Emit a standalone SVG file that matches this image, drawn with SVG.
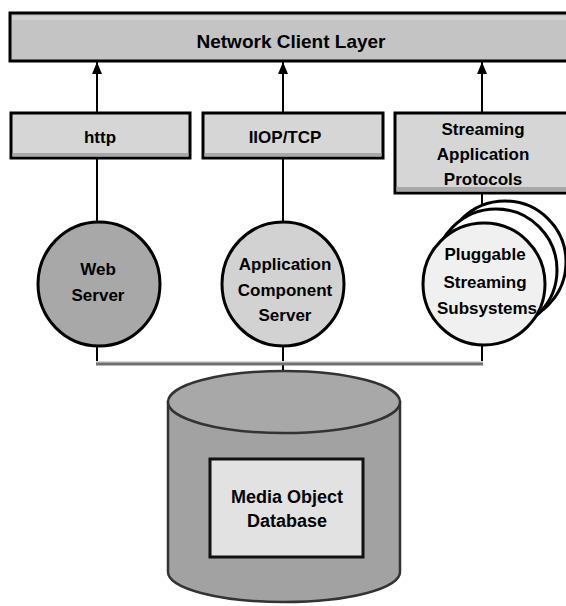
<svg xmlns="http://www.w3.org/2000/svg" width="566" height="606" viewBox="0 0 566 606">
<defs>
<style>
.t{font-family:"Liberation Sans",Arial,sans-serif;font-weight:bold;font-size:17px;fill:#000;text-anchor:middle}
.box{fill:#d6d6d6;stroke:#000;stroke-width:3}
.ln{stroke:#000;stroke-width:2;fill:none}
.circ{stroke:#000;stroke-width:3}
</style>
<marker id="ah" markerWidth="12" markerHeight="10" refX="12" refY="5" orient="auto" markerUnits="userSpaceOnUse" viewBox="0 0 12 10">
<path d="M0,0 L12,5 L0,10 Z" fill="#000"/>
</marker>
</defs>
<rect width="566" height="606" fill="#fff"/>

<g id="connectors">
<line class="ln" x1="97" y1="113" x2="97" y2="62" marker-end="url(#ah)"/>
<line class="ln" x1="283" y1="113" x2="283" y2="62" marker-end="url(#ah)"/>
<line class="ln" x1="482" y1="113" x2="482" y2="62" marker-end="url(#ah)"/>
<line class="ln" x1="97" y1="158" x2="97" y2="222"/>
<line class="ln" x1="283" y1="158" x2="283" y2="222"/>
<line class="ln" x1="482" y1="193" x2="482" y2="222"/>
<line class="ln" x1="97" y1="346" x2="97" y2="363"/>
<line class="ln" x1="283" y1="346" x2="283" y2="372"/>
<line class="ln" x1="482" y1="346" x2="482" y2="363"/>
<line x1="96" y1="362" x2="483" y2="362" stroke="#d8d8d8" stroke-width="2"/>
<line x1="96" y1="364" x2="483" y2="364" stroke="#707070" stroke-width="3"/>
</g>

<g id="client-layer">
<rect x="10" y="13" width="570" height="48" fill="#c4c4c4" stroke="#000" stroke-width="3"/>
<rect x="12" y="16" width="566" height="4" fill="#d2d2d2"/>
<text class="t" x="291" y="48" style="font-size:19px">Network Client Layer</text>
</g>

<g id="http">
<rect class="box" x="11" y="113" width="179" height="45"/>
<rect x="12.5" y="153" width="176" height="3.5" fill="#a8a8a8"/>
<text class="t" x="100" y="143">http</text>
</g>

<g id="iiop">
<rect class="box" x="203" y="113" width="180" height="45"/>
<rect x="204.5" y="153" width="177" height="3.5" fill="#a8a8a8"/>
<text class="t" x="285" y="143">IIOP/TCP</text>
</g>

<g id="streaming-protocols">
<rect class="box" x="395" y="113" width="185" height="80" fill="#dcdcdc"/>
<rect x="396.5" y="187" width="182" height="4.5" fill="#a8a8a8"/>
<text class="t" x="483" y="135">Streaming</text>
<text class="t" x="483" y="160">Application</text>
<text class="t" x="483" y="185">Protocols</text>
</g>

<g id="web-server">
<ellipse class="circ" cx="99" cy="284" rx="61" ry="62" fill="#a8a8a8"/>
<text class="t" x="98" y="275">Web</text>
<text class="t" x="98" y="301">Server</text>
</g>

<g id="app-server">
<ellipse class="circ" cx="283" cy="284" rx="61" ry="62" fill="#d2d2d2"/>
<text class="t" x="285" y="270">Application</text>
<text class="t" x="285" y="296">Component</text>
<text class="t" x="285" y="321">Server</text>
</g>

<g id="streaming-subsystems">
<circle class="circ" cx="505" cy="262" r="61" fill="#fff"/>
<circle class="circ" cx="496" cy="270" r="61" fill="#fff"/>
<circle class="circ" cx="484" cy="284" r="61" fill="#f0f0f0"/>
<text class="t" x="485" y="260">Pluggable</text>
<text class="t" x="485" y="288">Streaming</text>
<text class="t" x="487" y="314">Subsystems</text>
</g>

<g id="database">
<path d="M168,402 L168,572 A116,30 0 0 0 400,572 L400,402 Z" fill="#a2a2a2" stroke="#333" stroke-width="2.5"/>
<ellipse cx="284" cy="402" rx="116" ry="31" fill="#a8a8a8" stroke="#333" stroke-width="2.5"/>
<rect x="210" y="459" width="153" height="98" fill="#e2e2e2" stroke="#111" stroke-width="3"/>
<text class="t" x="287" y="503" style="font-size:18px">Media Object</text>
<text class="t" x="287" y="527" style="font-size:18px">Database</text>
</g>
</svg>
